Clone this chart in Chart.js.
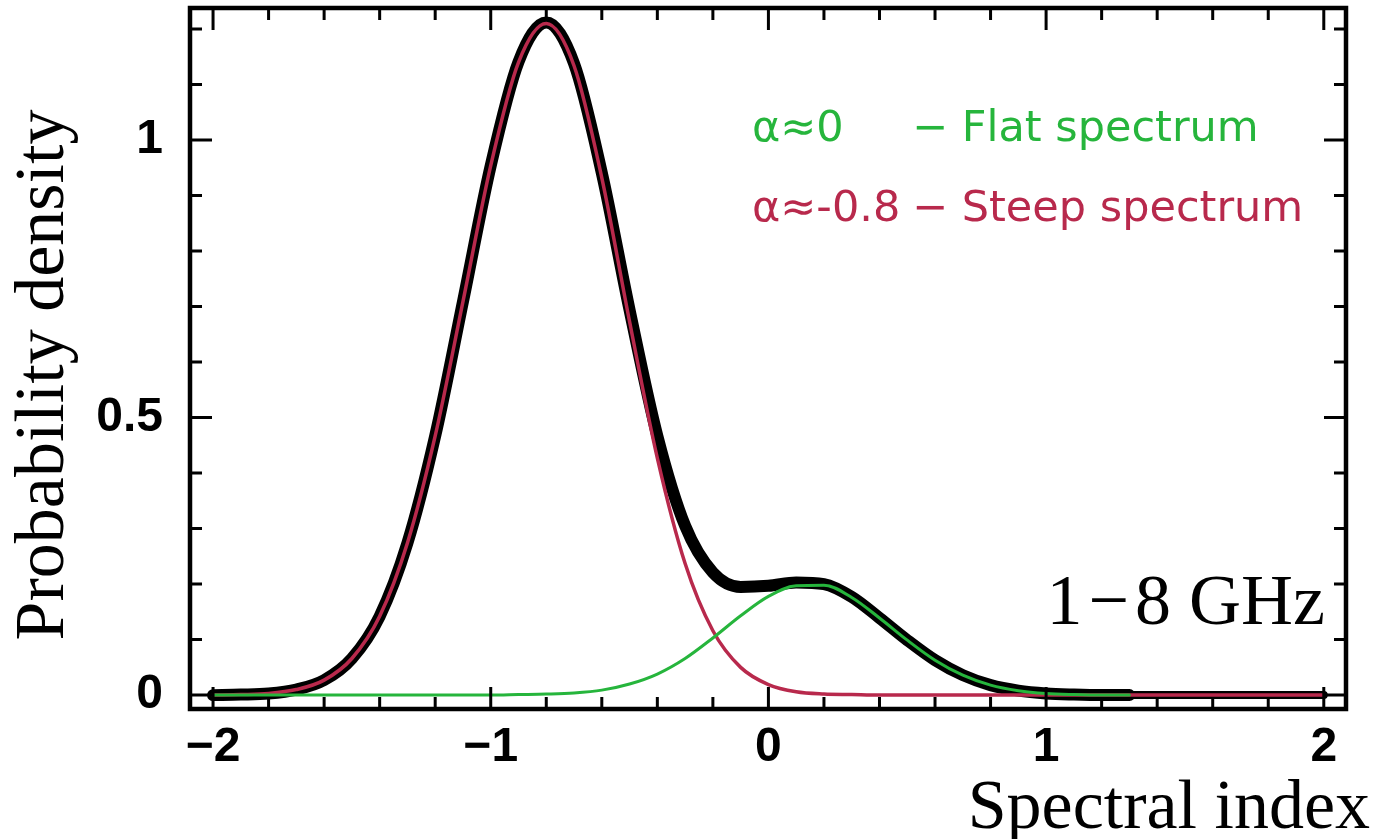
<!DOCTYPE html>
<html>
<head>
<meta charset="utf-8">
<script src="https://cdn.jsdelivr.net/npm/chart.js@4.4.1/dist/chart.umd.min.js"></script>
<style>
  html, body { margin: 0; padding: 0; background: #fff; }
  canvas { display: block; }
</style>
</head>
<body>
<canvas id="pdf-chart" width="1376" height="839"></canvas>
<script>
// spectral index grid (x) and densities
const spectralIndex = [-2.0, -1.9, -1.8, -1.7, -1.6, -1.5, -1.4, -1.3, -1.2, -1.1,
  -1.0, -0.9, -0.8, -0.7, -0.6, -0.5, -0.4, -0.3, -0.2, -0.1,
  0.0, 0.1, 0.2, 0.3, 0.4, 0.5, 0.6, 0.7, 0.8, 0.9,
  1.0, 1.1, 1.2, 1.3, 1.4, 1.5, 1.6, 1.7, 1.8, 1.9, 2.0];

const totalDensity = [0, 0.001, 0.003, 0.010, 0.027, 0.066, 0.142, 0.274, 0.467, 0.709,
  0.954, 1.141, 1.212, 1.138, 0.941, 0.694, 0.467, 0.305, 0.221, 0.195,
  0.197, 0.203, 0.200, 0.177, 0.139, 0.099, 0.063, 0.036, 0.018, 0.008,
  0.003, 0.001, 0, 0, 0, 0, 0, 0, 0, 0, 0];

const steepDensity = [0, 0.001, 0.003, 0.010, 0.027, 0.066, 0.142, 0.274, 0.467, 0.709,
  0.954, 1.140, 1.210, 1.134, 0.932, 0.673, 0.427, 0.237, 0.116, 0.050,
  0.019, 0.006, 0.002, 0.001, 0, 0, 0, 0, 0, 0,
  0, 0, 0, 0, 0, 0, 0, 0, 0, 0, 0];

const flatDensity = [0, 0, 0, 0, 0, 0, 0, 0, 0, 0,
  0, 0.001, 0.002, 0.004, 0.009, 0.020, 0.038, 0.066, 0.103, 0.143,
  0.178, 0.197, 0.198, 0.176, 0.139, 0.099, 0.063, 0.036, 0.018, 0.008,
  0.003, 0.001, 0, 0, null, null, null, null, null, null, null];

const xLabelValues = [-2, -1, 0, 1, 2];
const xLabels = ['\u22122', '\u22121', '0', '1', '2'];
const xMinorValues = [-2, -1.8, -1.6, -1.4, -1.2, -1, -0.8, -0.6, -0.4, -0.2,
  0, 0.2, 0.4, 0.6, 0.8, 1, 1.2, 1.4, 1.6, 1.8, 2];
const yLabelValues = [0, 0.5, 1];
const yLabels = ['0', '0.5', '1'];
const yMinorValues = [0, 0.1, 0.2, 0.3, 0.4, 0.5, 0.6, 0.7, 0.8, 0.9, 1, 1.1, 1.2];

const GREEN = '#26b53c';
const RED = '#b8294c';

const pts = (ys, keep) => spectralIndex
  .map((x, i) => ({ x: x, y: ys[i] }))
  .filter(p => p.y !== null && (!keep || keep(p.x)));

const isMajor = (v, majors) => majors.some(m => Math.abs(m - v) < 1e-6);

const framePlugin = {
  id: 'frame',
  afterDatasetsDraw(chart) {
    const { ctx, chartArea: a, scales: { x, y } } = chart;
    ctx.save();
    ctx.strokeStyle = '#000';
    ctx.lineWidth = 3;
    ctx.beginPath();
    xMinorValues.forEach(v => {
      const px = x.getPixelForValue(v);
      const len = isMajor(v, xLabelValues) ? 22 : 12;
      ctx.moveTo(px, a.bottom); ctx.lineTo(px, a.bottom - len);
      ctx.moveTo(px, a.top); ctx.lineTo(px, a.top + len);
    });
    yMinorValues.forEach(v => {
      const py = y.getPixelForValue(v);
      const len = isMajor(v, yLabelValues) ? 22 : 12;
      ctx.moveTo(a.left, py); ctx.lineTo(a.left + len, py);
      ctx.moveTo(a.right, py); ctx.lineTo(a.right - len, py);
    });
    ctx.stroke();
    ctx.lineWidth = 4.5;
    ctx.strokeRect(a.left, a.top, a.right - a.left, a.bottom - a.top);

    // tick labels
    ctx.fillStyle = '#000';
    ctx.font = 'bold 48px "Liberation Sans", Arial, sans-serif';
    ctx.textAlign = 'center';
    ctx.textBaseline = 'middle';
    xLabelValues.forEach((v, i) => ctx.fillText(xLabels[i], x.getPixelForValue(v), a.bottom + 39));
    ctx.textAlign = 'right';
    yLabelValues.forEach((v, i) => ctx.fillText(yLabels[i], a.left - 27, y.getPixelForValue(v)));

    // axis titles
    ctx.font = '70px "Liberation Serif", "Times New Roman", serif';
    ctx.textBaseline = 'alphabetic';
    ctx.textAlign = 'right';
    ctx.fillText('Spectral index', 1370, 828);
    ctx.save();
    ctx.translate(63, 375);
    ctx.rotate(-Math.PI / 2);
    ctx.textAlign = 'center';
    ctx.fillText('Probability density', 0, 0);
    ctx.restore();

    ctx.font = '72px "Liberation Serif", "Times New Roman", serif';
    ctx.textAlign = 'right';
    ctx.fillText('1\u200a\u2212\u200a8 GHz', 1325, 624);

    // annotation
    ctx.font = '43px "DejaVu Sans", sans-serif';
    ctx.textAlign = 'left';
    ctx.fillStyle = GREEN;
    ctx.fillText('\u03b1\u22480', 752, 141);
    ctx.fillText('\u2212 Flat spectrum', 912, 141);
    ctx.fillStyle = RED;
    ctx.fillText('\u03b1\u2248-0.8', 752, 221);
    ctx.fillText('\u2212 Steep spectrum', 912, 221);
    ctx.restore();
  }
};

new Chart(document.getElementById('pdf-chart'), {
  type: 'line',
  data: {
    datasets: [
      { label: 'Flat', data: pts(flatDensity), borderColor: GREEN, borderWidth: 3, order: 0 },
      { label: 'Steep', data: pts(steepDensity), borderColor: RED, borderWidth: 3.5, order: 1 },
      { label: 'Total', data: pts(totalDensity, x => x <= 1.3), borderColor: '#000', borderWidth: 12, order: 2 },
      { label: 'Total tail', data: pts(totalDensity, x => x >= 1.2), borderColor: '#000', borderWidth: 8, order: 3 }
    ]
  },
  options: {
    responsive: false,
    animation: false,
    devicePixelRatio: 1,
    layout: { padding: { left: 190, top: 8, right: 30, bottom: 130 } },
    elements: {
      point: { radius: 0 },
      line: { cubicInterpolationMode: 'monotone', borderCapStyle: 'round', borderJoinStyle: 'round', fill: false }
    },
    plugins: { legend: { display: false }, tooltip: { enabled: false } },
    scales: {
      x: { type: 'linear', min: -2.083, max: 2.08, display: false },
      y: { type: 'linear', min: -0.025, max: 1.238, display: false }
    }
  },
  plugins: [framePlugin]
});
</script>
</body>
</html>
